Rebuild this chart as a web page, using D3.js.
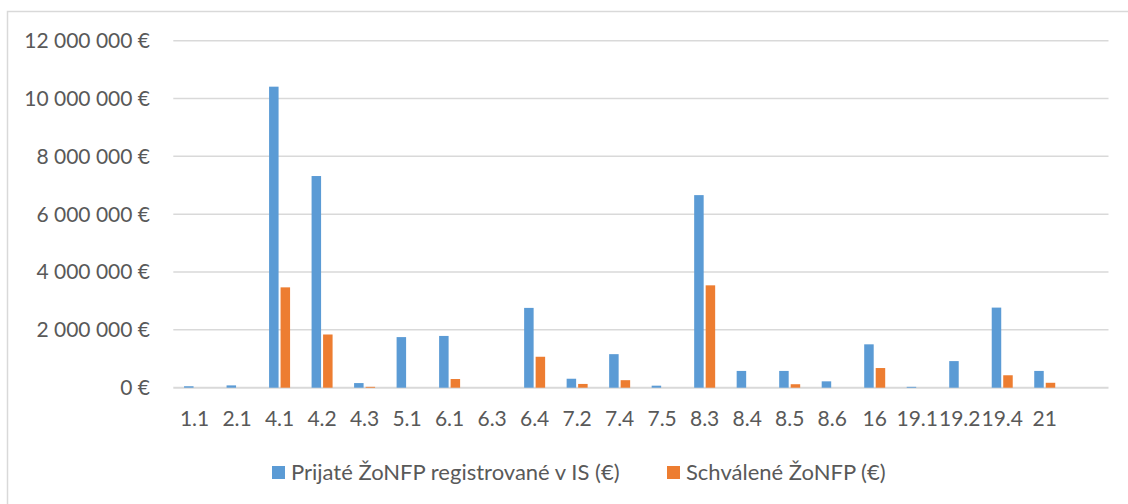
<!DOCTYPE html>
<html><head><meta charset="utf-8">
<script src="https://cdn.jsdelivr.net/npm/d3@7"></script>
<style>
html,body{margin:0;padding:0;background:#fff;}
svg{display:block;font-family:Lato,"Open Sans",sans-serif;}
</style></head>
<body>
<svg id="chart" width="1128" height="504"></svg>
<script>
const categories = ["1.1","2.1","4.1","4.2","4.3","5.1","6.1","6.3","6.4","7.2","7.4","7.5","8.3","8.4","8.5","8.6","16","19.1","19.2","19.4","21"];
const prijate = [50000,80000,10410000,7320000,160000,1750000,1790000,0,2760000,310000,1160000,70000,6660000,580000,580000,220000,1500000,30000,920000,2770000,580000];
const schvalene = [0,0,3470000,1840000,30000,0,300000,0,1070000,130000,260000,0,3540000,0,120000,0,680000,0,0,430000,170000];
const seriesNames = ["Prijaté ŽoNFP registrované v IS (€)","Schválené ŽoNFP (€)"];
const colors = ["#5b9bd5","#ed7d31"];
const yTicks = [0,2000000,4000000,6000000,8000000,10000000,12000000];

const svg = d3.select("#chart");
const textColor = "#595959";
const gridColor = "#d9d9d9";

// outer chart border
svg.append("rect").attr("x",7.5).attr("y",11.5).attr("width",1130).attr("height",500)
  .attr("fill","none").attr("stroke",gridColor).attr("stroke-width",1.5);

const plotL = 173.3, plotR = 1108.5, plotT = 40.7, plotB = 387.7;
// trailing empty slot as in the original chart
const x = d3.scaleBand().domain(categories.concat([" "])).range([plotL, plotR]).padding(0);
const y = d3.scaleLinear().domain([0,12000000]).range([plotB, plotT]);

const fmt = v => (v===0 ? "0" : d3.format(",")(v).replace(/,/g," ")) + " €";

// gridlines
svg.append("g").selectAll("line").data(yTicks).join("line")
  .attr("x1",plotL).attr("x2",plotR)
  .attr("y1",d=>y(d)).attr("y2",d=>y(d))
  .attr("stroke",gridColor).attr("stroke-width",d=>d===0?2:1.5);

// y labels
svg.append("g").selectAll("text").data(yTicks).join("text")
  .attr("x",150).attr("y",d=>y(d)).attr("dy","0.35em")
  .attr("text-anchor","end").attr("fill",textColor).attr("font-size",21)
  .text(fmt);

// x labels
svg.append("g").selectAll("text").data(categories).join("text")
  .attr("x",d=>x(d)+x.bandwidth()/2).attr("y",419).attr("dy","0.35em")
  .attr("text-anchor","middle").attr("fill",textColor).attr("font-size",21)
  .text(d=>d);

// bars
const bw = 9.5, gap = 1;
const seriesData = [prijate, schvalene];
seriesData.forEach((vals, si) => {
  svg.append("g").selectAll("rect").data(categories).join("rect")
    .attr("x", (d)=> x(d)+x.bandwidth()/2 + (si===0 ? -gap-bw : gap))
    .attr("width", bw)
    .attr("y", (d,i)=> y(vals[i]))
    .attr("height", (d,i)=> y(0)-y(vals[i]))
    .attr("fill", colors[si]);
});

// legend
const legendPos = [{rx:272, tx:291},{rx:667, tx:686}];
seriesNames.forEach((name, i) => {
  svg.append("rect").attr("x",legendPos[i].rx).attr("y",466).attr("width",13).attr("height",13).attr("fill",colors[i]);
  svg.append("text").attr("x",legendPos[i].tx).attr("y",472.5).attr("dy","0.35em")
    .attr("fill",textColor).attr("font-size",22).text(name);
});
</script>
</body></html>
